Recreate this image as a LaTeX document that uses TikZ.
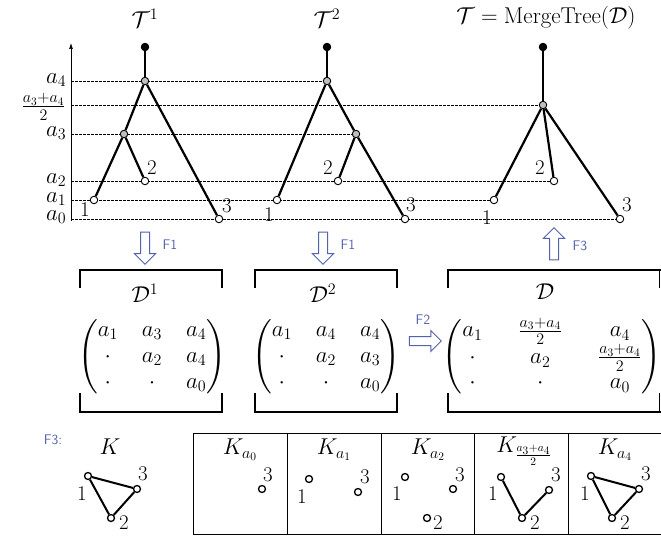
\RequirePackage{fix-cm}
\documentclass[tikz,border=0pt]{standalone}
\usepackage{amsmath}
\usepackage{xcolor}
\usetikzlibrary{arrows.meta,shapes.arrows}

\definecolor{fblue}{RGB}{84,98,172}
\pgfdeclarelayer{bg}
\pgfsetlayers{bg,main}

\begin{document}
\begin{tikzpicture}[x=1bp, y=-1bp,
    every node/.style={font=\fontsize{23}{26}\selectfont},
    num/.style={font=\fontsize{21}{24}\selectfont},
    lvl/.style={anchor=east, inner sep=0.5bp},
    leaf/.style={circle, draw, fill=white, inner sep=0pt, minimum size=7.5bp, line width=0.9bp},
    inner/.style={leaf, fill=black!25},
    root/.style={leaf, fill=black},
    branch/.style={line width=2.2bp},
    level/.style={line width=0.6bp, dash pattern=on 2.5bp off 1.5bp},
    flabel/.style={font=\sffamily\fontsize{14}{16}\selectfont, text=fblue},
    farrow/.style={single arrow, draw=fblue, fill=white, line width=1bp, inner sep=4bp, minimum height=32bp, single arrow head extend=6bp},
    bracket/.style={line width=1.4bp},
    knode/.style={circle, draw, fill=white, inner sep=0pt, minimum size=7bp, line width=1.3bp},
    kedge/.style={line width=2bp}
  ]
    \useasboundingbox (0,0) rectangle (661,537);

    % titles
    \node (tt1) at (145,18) {$\mathcal{T}^1$};
    \node (tt2) at (327,18) {$\mathcal{T}^2$};
    \node (tt) at (546,18) {$\mathcal{T}=\mathrm{MergeTree}(\mathcal{D})$};

    % value axis
    \coordinate (ax0) at (71,221);
    \coordinate (axtop) at (71,43);
    \draw[-{Latex[length=6bp,width=4bp]}, line width=0.7bp] (ax0) -- (axtop);
    \coordinate (y4) at (71,81);
    \coordinate (ym) at (71,105);
    \coordinate (y3) at (71,134);
    \coordinate (y2) at (71,181);
    \coordinate (y1) at (71,200);
    \coordinate (y0) at (71,219);
    \node[lvl] (la4) at (67,80) {$a_4$};
    \node[lvl] (lam) at (66,107) {$\frac{a_3+a_4}{2}$};
    \node[lvl] (la3) at (67,133) {$a_3$};
    \node[lvl] (la2) at (67,180) {$a_2$};
    \node[lvl] (la1) at (67,199) {$a_1$};
    \node[lvl] (la0) at (67,217) {$a_0$};

    % tree 1
    \node[root] (r1) at (145,47) {};
    \node[inner] (m1) at (145,81) {};
    \node[inner] (n1) at (124,134) {};
    \node[leaf] (p1) at (94,200) {};
    \node[leaf] (q1) at (145,181) {};
    \node[leaf] (s1) at (219,219) {};
    \draw[branch] (r1) -- (m1);
    \draw[branch] (m1) -- (n1);
    \draw[branch] (n1) -- (p1);
    \draw[branch] (n1) -- (q1);
    \draw[branch] (m1) -- (s1);
    \node[num] (p1l) at (85,210) {1};
    \node[num] (q1l) at (152,168) {2};
    \node[num] (s1l) at (227,206) {3};

    % tree 2
    \node[root] (r2) at (327,47) {};
    \node[inner] (m2) at (327,81) {};
    \node[inner] (n2) at (356,134) {};
    \node[leaf] (p2) at (277,200) {};
    \node[leaf] (q2) at (338,181) {};
    \node[leaf] (s2) at (405,219) {};
    \draw[branch] (r2) -- (m2);
    \draw[branch] (m2) -- (p2);
    \draw[branch] (m2) -- (n2);
    \draw[branch] (n2) -- (q2);
    \draw[branch] (n2) -- (s2);
    \node[num] (p2l) at (269,215) {1};
    \node[num] (q2l) at (328,168) {2};
    \node[num] (s2l) at (411,205) {3};

    % merged tree
    \node[root] (r3) at (543,47) {};
    \node[inner] (m3) at (543,105) {};
    \node[leaf] (p3) at (494,200) {};
    \node[leaf] (q3) at (554,181) {};
    \node[leaf] (s3) at (620,219) {};
    \draw[branch] (r3) -- (m3);
    \draw[branch] (m3) -- (p3);
    \draw[branch] (m3) -- (q3);
    \draw[branch] (m3) -- (s3);
    \node[num] (p3l) at (487,218) {1};
    \node[num] (q3l) at (540,168) {2};
    \node[num] (s3l) at (627,205) {3};

    % level lines
    \begin{pgfonlayer}{bg}
      \draw[level] (y4) -- (m2);
      \draw[level] (ym) -- (m3);
      \draw[level] (y3) -- (n2);
      \draw[level] (y2) -- (q3);
      \draw[level] (y1) -- (p3);
      \draw[level] (y0) -- (s3);
    \end{pgfonlayer}

    % F arrows
    \node[farrow, shape border rotate=270] (f1a) at (145,246) {};
    \node[flabel] (f1al) at (170,245) {F1};
    \node[farrow, shape border rotate=270] (f1b) at (323,246) {};
    \node[flabel] (f1bl) at (348,245) {F1};
    \node[farrow, shape border rotate=90] (f3) at (554,246) {};
    \node[flabel] (f3l) at (580,246) {F3};
    \node[farrow] (f2) at (423,341) {};
    \node[flabel] (f2l) at (423,320) {F2};

    % distance matrices
    \draw[bracket] (80,288) -- (80,270) -- (222,270) -- (222,288);
    \draw[bracket] (80,393) -- (80,412) -- (222,412) -- (222,393);
    \draw[bracket] (255,288) -- (255,270) -- (397,270) -- (397,288);
    \draw[bracket] (255,393) -- (255,412) -- (397,412) -- (397,393);
    \draw[bracket] (448,288) -- (448,270) -- (661,270);
    \draw[bracket] (448,393) -- (448,412) -- (661,412);
    \draw[bracket] (659.5,270) -- (659.5,288);
    \draw[bracket] (659.5,412) -- (659.5,393);

    \node (dd1) at (145,293) {$\mathcal{D}^1$};
    \node (mat1) at (152,357) {\setlength{\arraycolsep}{12bp}\renewcommand{\arraystretch}{1}%
      $\begin{pmatrix} a_1 & a_3 & a_4\\ \cdot & a_2 & a_4\\ \cdot & \cdot & a_0 \end{pmatrix}$};
    \node (dd2) at (323,293) {$\mathcal{D}^2$};
    \node (mat2) at (326,357) {\setlength{\arraycolsep}{12bp}\renewcommand{\arraystretch}{1}%
      $\begin{pmatrix} a_1 & a_4 & a_4\\ \cdot & a_2 & a_3\\ \cdot & \cdot & a_0 \end{pmatrix}$};
    \node (dd) at (545,292) {$\mathcal{D}$};
    \node (mat) at (552,357) {\setlength{\arraycolsep}{18bp}\renewcommand{\arraystretch}{0.95}%
      $\begin{pmatrix} a_1 & \frac{a_3+a_4}{2} & a_4\\ \cdot & a_2 & \frac{a_3+a_4}{2}\\ \cdot & \cdot & a_0 \end{pmatrix}$};

    % sublevel graphs
    \node[flabel] (f3k) at (53,440) {F3:};
    \node (kk) at (110,447) {$K$};
    \node[knode] (k1) at (88,476) {};
    \node[knode] (k3) at (137,489) {};
    \node[knode] (k2) at (111,518) {};
    \draw[kedge] (k1) -- (k3);
    \draw[kedge] (k3) -- (k2);
    \draw[kedge] (k2) -- (k1);
    \node[num] (k1l) at (82,494) {1};
    \node[num] (k3l) at (143,474) {3};
    \node[num] (k2l) at (124,523) {2};

    \draw[line width=0.8bp] (661,433) -- (193,433) -- (193,534) -- (661,534);
    \foreach \xd in {287,381,474,568}
      \draw[line width=0.8bp] (\xd,433) -- (\xd,534);

    % K at a0
    \node (ka0) at (240,450) {$K_{a_0}$};
    \node[knode] (a0n3) at (262,489) {};
    \node[num] (a0l3) at (268,475) {3};
    % K at a1
    \node (ka1) at (334,450) {$K_{a_1}$};
    \node[knode] (a1n1) at (309,479) {};
    \node[knode] (a1n3) at (358,492) {};
    \node[num] (a1l1) at (302,497) {1};
    \node[num] (a1l3) at (365,477) {3};
    % K at a2
    \node (ka2) at (428,450) {$K_{a_2}$};
    \node[knode] (a2n1) at (405,477) {};
    \node[knode] (a2n3) at (453,489) {};
    \node[knode] (a2n2) at (427,518) {};
    \node[num] (a2l1) at (397,494) {1};
    \node[num] (a2l3) at (460,475) {3};
    \node[num] (a2l2) at (438,523) {2};
    % K at (a3+a4)/2
    \node (kam) at (524,451) {$K_{\frac{a_3+a_4}{2}}$};
    \node[knode] (amn1) at (501,477) {};
    \node[knode] (amn3) at (549,490) {};
    \node[knode] (amn2) at (522,518) {};
    \draw[kedge] (amn1) -- (amn2);
    \draw[kedge] (amn2) -- (amn3);
    \node[num] (aml1) at (493,494) {1};
    \node[num] (aml3) at (556,475) {3};
    \node[num] (aml2) at (535,523) {2};
    % K at a4
    \node (ka4) at (615,450) {$K_{a_4}$};
    \node[knode] (a4n1) at (591,476) {};
    \node[knode] (a4n3) at (639,489) {};
    \node[knode] (a4n2) at (612,518) {};
    \draw[kedge] (a4n1) -- (a4n3);
    \draw[kedge] (a4n3) -- (a4n2);
    \draw[kedge] (a4n2) -- (a4n1);
    \node[num] (a4l1) at (585,494) {1};
    \node[num] (a4l3) at (646,474) {3};
    \node[num] (a4l2) at (625,523) {2};
\end{tikzpicture}
\end{document}
